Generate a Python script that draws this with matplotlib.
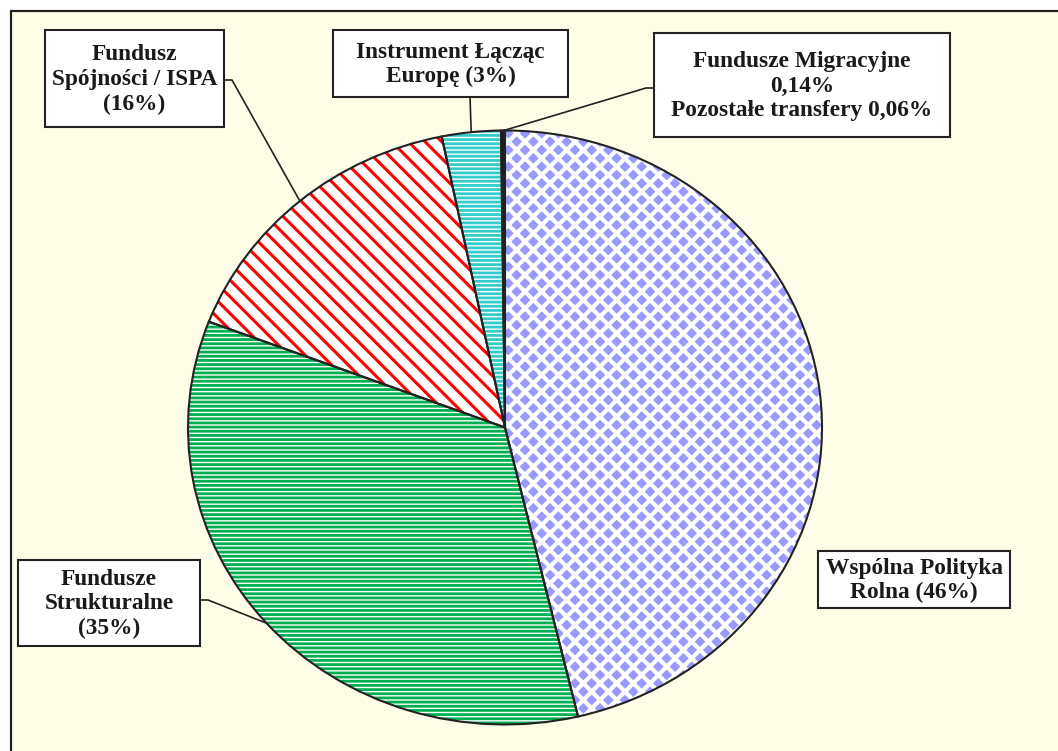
import numpy as np
import matplotlib.pyplot as plt
from matplotlib.patches import Rectangle

# shares of the budget (%), clockwise from 12 o'clock
funds = ["Wspólna Polityka Rolna", "Fundusze Strukturalne", "Fundusz Spójności / ISPA",
         "Instrument Łącząc Europę", "Fundusze Migracyjne", "Pozostałe transfery"]
shares = [46.3, 34.5, 16.0, 3.0, 0.14, 0.06]
box_texts = ["Wspólna Polityka\nRolna (46%)",
             "Fundusze\nStrukturalne\n(35%)",
             "Fundusz\nSpójności / ISPA\n(16%)",
             "Instrument Łącząc\nEuropę (3%)",
             "Fundusze Migracyjne\n0,14%\nPozostałe transfery 0,06%"]

# styles
face_colors = ["#9999FF", "white", "white", "white", "black", "black"]
hatch_colors = ["white", "#00B050", "#FF0000", "#33CCCC", "black", "black"]
hatches = ["xx", "----", "\\\\", "----", None, None]
hatch_lw = [3.0, 2.0, 2.2, 2.0, 1.0, 1.0]

W, H = 1058, 751
CX, CY, RX, RY = 505, 427.5, 317, 297  # pie centre / radii in pixels


def to_data(px, py):
    return (px - CX) / RX, (CY - py) / RY


fig = plt.figure(figsize=(W / 100, H / 100), dpi=100)
fig.patch.set_facecolor("white")

# yellow chart area frame, cut off at right and bottom like the original
fig.add_artist(Rectangle((10.5 / W, -0.1), 1.2, (H - 10.5) / H + 0.1,
                         transform=fig.transFigure, facecolor="#FEFEE8",
                         edgecolor="#222222", lw=1.6, zorder=0))

ax = fig.add_axes([0, 0, 1, 1])
ax.set_facecolor("none")

wedges = []
start = 90.0
total = sum(shares)
for val, fc, hc, h, hl in zip(shares, face_colors, hatch_colors, hatches, hatch_lw):
    plt.rcParams['hatch.linewidth'] = hl
    ws, _ = ax.pie([val, total - val], startangle=start, counterclock=False,
                   radius=1, wedgeprops=dict(linewidth=0))
    ws[1].remove()
    w = ws[0]
    w.set_facecolor(fc)
    w.set_edgecolor(hc)
    w.set_linewidth(0)
    if h:
        w.set_hatch(h)
    if hasattr(w, "set_hatch_linewidth"):
        w.set_hatch_linewidth(hl)
    wedges.append(w)
    start -= val / total * 360

# outlines
ax.pie(shares, startangle=90, counterclock=False, radius=1,
       wedgeprops=dict(fill=False, edgecolor="#222222", linewidth=1.5))

ax.set_aspect("auto")
x0, y0 = to_data(0, H)
x1, y1 = to_data(W, 0)
ax.set_xlim(x0, x1)
ax.set_ylim(y0, y1)
ax.axis("off")

# label boxes in pixels: (left, right, top, bottom)
boxes = [(818, 1010, 551, 608),
         (18, 200, 560, 646),
         (45, 224, 30, 127),
         (333, 568, 30, 97),
         (654, 950, 33, 137)]
# leader line start on the box (pixels) plus an optional elbow
leaders = {1: [(200, 600), (208, 600)],
           2: [(224, 80), (232, 80)],
           3: [(470, 97)],
           4: [(654, 88), (646, 88)]}

for i, (l, r, t, b) in enumerate(boxes):
    (dx0, dy0), (dx1, dy1) = to_data(l, b), to_data(r, t)
    ax.add_patch(Rectangle((dx0, dy0), dx1 - dx0, dy1 - dy0, facecolor="white",
                           edgecolor="#222222", lw=1.5, zorder=4))
    ax.text(*to_data((l + r) / 2, (t + b) / 2 + 1), box_texts[i], ha="center",
            va="center", fontsize=16.8, fontweight="bold", family="Liberation Serif",
            color="#1a1a1a", linespacing=1.22, zorder=5)
    if i in leaders:
        if i == 4:
            th = np.deg2rad((wedges[4].theta1 + wedges[5].theta2) / 2)
        else:
            th = np.deg2rad((wedges[i].theta1 + wedges[i].theta2) / 2)
        pts = [to_data(*p) for p in leaders[i]] + [(np.cos(th), np.sin(th))]
        xs, ys = zip(*pts)
        ax.plot(xs, ys, color="#222222", lw=1.2, zorder=3)

fig.savefig("out.png", dpi=100)
